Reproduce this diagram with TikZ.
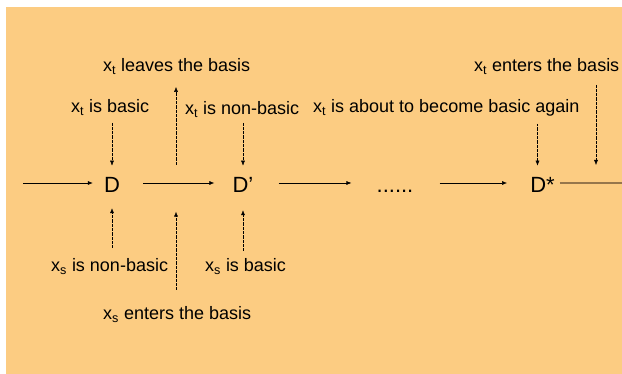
\documentclass[tikz,border=0pt]{standalone}
\usepackage{fontspec}
\setmainfont{Liberation Sans}
\usetikzlibrary{arrows.meta,calc}
\definecolor{bgorange}{RGB}{252,204,130}
\definecolor{brownline}{RGB}{150,118,75}
\begin{document}
\begin{tikzpicture}[x=1pt,y=-1pt,
  lbl/.style={anchor=base west,inner sep=0pt,font=\fontsize{18}{20}\selectfont},
  state/.style={anchor=base,inner sep=0pt,font=\fontsize{22}{24}\selectfont},
  mainarrow/.style={line width=0.6pt,-{Latex[length=5pt,width=4pt]}},
  varrow/.style={line width=0.45pt,dash pattern=on 0.6pt off 0.7pt,-{Latex[length=5pt,width=4pt]}}]
\useasboundingbox (0,0) rectangle (622,374);
\fill[bgorange] (6,7) rectangle (622,374);
% states
\node[state] (D) at (112,193) {D};
\node[state] (Dp) at (243,193) {D’};
\node[state] (dots) at (395,193) {......};
\node[state] (Ds) at (542.5,193) {D*};
\coordinate (in) at (23,183);
\coordinate (out) at (622,183);
% labels
\node[lbl] (tl) at (103,72) {x\textsubscript{t} leaves the basis};
\node[lbl] (tb) at (71,113) {x\textsubscript{t} is basic};
\node[lbl] (tnb) at (185,115) {x\textsubscript{t} is non-basic};
\node[lbl] (ta) at (313,113) {x\textsubscript{t} is about to become basic again};
\node[lbl] (te) at (474,72) {x\textsubscript{t} enters the basis};
\node[lbl] (sn) at (51,272) {x\textsubscript{s} is non-basic};
\node[lbl] (sb) at (205,272) {x\textsubscript{s} is basic};
\node[lbl] (se) at (103,320) {x\textsubscript{s} enters the basis};
\coordinate (cl) at (176,165);
\coordinate (ce) at (596,165);
\coordinate (cs) at (176,211.7);
% main arrows
\draw[mainarrow,shorten >=11pt] (in) -- (D.west |- in);
\draw[mainarrow,shorten <=23pt,shorten >=18pt] (D.east |- in) -- (Dp.west |- in);
\draw[mainarrow,shorten <=25pt,shorten >=25pt] (Dp.east |- in) -- (dots.west |- in);
\draw[mainarrow,shorten <=26pt,shorten >=23pt] (dots.east |- in) -- (Ds.west |- in);
\draw[brownline,line width=1.2pt,shorten <=5pt] (Ds.east |- in) -- (out);
% vertical arrows (top)
\draw[varrow,shorten <=7pt,shorten >=12pt] (tb.south -| D) -- (D.north);
\draw[varrow,shorten <=5pt,shorten >=12pt] (tnb.south -| Dp) -- (Dp.north);
\draw[varrow,shorten <=7pt,shorten >=12pt] ($(ta.south -| Ds.north)+(-5,0)$) -- ($(Ds.north)+(-5,0)$);
\draw[varrow,shorten <=10pt] (te.south -| ce) -- (ce);
\draw[varrow,shorten >=12pt] (cl) -- (tl.south -| cl);
% vertical arrows (bottom)
\draw[varrow,shorten <=11pt,shorten >=15pt] (sn.north -| D) -- (D.south);
\draw[varrow,shorten <=8pt,shorten >=17pt] (sb.north -| Dp) -- (Dp.south);
\draw[varrow,shorten <=17pt] (se.north -| cs) -- (cs);
\end{tikzpicture}
\end{document}
